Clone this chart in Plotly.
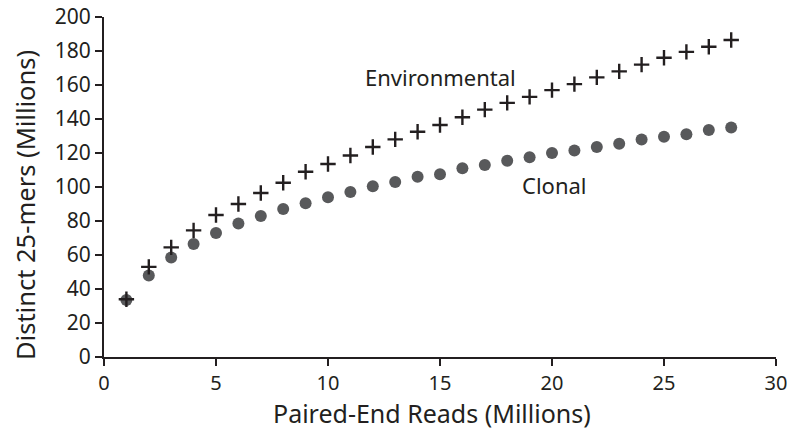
import plotly.graph_objects as go

reads = list(range(1, 29))
environmental = [34, 53, 64.5, 74.5, 83.5, 90, 96.5, 102.5, 109, 113.5, 118.5, 123.5, 128, 132.5,
                 136.5, 141, 145.5, 149.5, 153, 157, 160.5, 164.5, 168, 172, 176, 179.5, 182.5, 186.5]
clonal = [33.5, 48, 58.5, 66.5, 73, 78.5, 83, 87, 90.5, 94, 97, 100.5, 103, 106,
          107.5, 111, 113, 115.5, 117.5, 120, 121.5, 123.5, 125.5, 128, 129.5, 131, 133.5, 135]
x_ticks = [0, 5, 10, 15, 20, 25, 30]
y_ticks = [0, 20, 40, 60, 80, 100, 120, 140, 160, 180, 200]

FONT = "Noto Sans"
INK = "#231f20"

W, H = 787, 434
L, R, T, B = 104, 11, 17, 77
PW, PH = W - L - R, H - T - B

fig = go.Figure()
fig.add_trace(go.Scatter(
    x=reads, y=clonal, mode="markers", name="Clonal",
    marker=dict(symbol="circle", size=12, color="#58595b", line=dict(width=0)),
))
fig.add_trace(go.Scatter(
    x=reads, y=environmental, mode="markers", name="Environmental",
    marker=dict(symbol="cross-thin-open", size=11, color=INK, line=dict(width=2.4, color=INK)),
))

fig.add_annotation(x=15.0, y=165, text="Environmental", showarrow=False,
                   font=dict(family=FONT, size=22, color=INK))
fig.add_annotation(x=20.1, y=101, text="Clonal", showarrow=False,
                   font=dict(family=FONT, size=22, color=INK))

# axis titles as paper-positioned annotations
fig.add_annotation(xref="paper", yref="paper",
                   x=(432 - L) / PW, y=(H - B - 413) / PH,
                   text="Paired-End Reads (Millions)", showarrow=False,
                   xanchor="center", yanchor="middle",
                   font=dict(family=FONT, size=25, color=INK))
fig.add_annotation(xref="paper", yref="paper",
                   x=(25 - L) / PW, y=(H - B - 205) / PH,
                   text="Distinct 25-mers (Millions)", showarrow=False, textangle=-90,
                   xanchor="center", yanchor="middle",
                   font=dict(family=FONT, size=25.5, color=INK))

axis_common = dict(
    showgrid=False, zeroline=False, showline=True, linecolor=INK, linewidth=2,
    ticks="outside", ticklen=7, tickwidth=2, tickcolor=INK, automargin=False,
    ticklabeloverflow="allow",
)

fig.update_layout(
    width=W, height=H,
    margin=dict(l=L, r=R, t=T, b=B),
    plot_bgcolor="white", paper_bgcolor="white",
    showlegend=False,
    xaxis=dict(range=[0, 30], tickvals=x_ticks, tickfont=dict(family=FONT, size=20, color=INK),
               **axis_common),
    yaxis=dict(range=[0, 200], tickvals=y_ticks, tickfont=dict(family=FONT, size=21, color=INK),
               **axis_common),
)

fig.write_html("out.html",
               config={"displayModeBar": False},
               post_script="document.body.style.margin='0';document.body.style.overflow='hidden';")
